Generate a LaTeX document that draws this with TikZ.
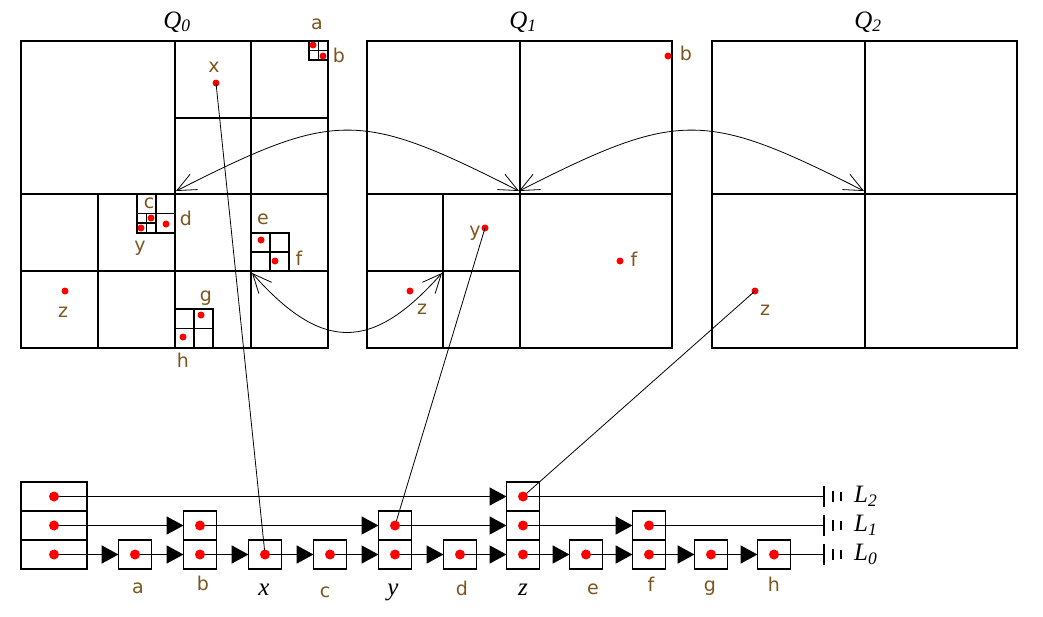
\documentclass[tikz,border=0pt]{standalone}
\usepackage{fontspec}
\setmainfont{DejaVu Sans}
\newfontfamily\serifit{Liberation Serif}
\usetikzlibrary{arrows.meta, positioning}
\definecolor{lblbrown}{RGB}{125,85,30}

\begin{document}
\begin{tikzpicture}[
  x=1pt, y=-1pt,
  quad/.style={line width=1.9pt},
  subq/.style={line width=1.3pt},
  cell/.style={rectangle, draw, line width=1.8pt, minimum width=33pt, minimum height=29pt, inner sep=0pt, outer sep=0pt},
  headcell/.style={cell, minimum width=66pt},
  rdot/.style={circle, fill=red, inner sep=0pt, minimum size=7pt},
  lbl/.style={text=lblbrown, font=\fontsize{19}{19}\selectfont, inner sep=0pt},
  vlbl/.style={font=\fontsize{25}{25}\serifit\itshape, inner sep=0pt},
  ptr/.style={line width=1.8pt, -{Triangle[length=17pt,width=18pt]}},
  stopper/.style={line width=1.8pt, -{Bar[width=21pt]}},
  link/.style={line width=0.8pt},
  jump/.style={line width=0.8pt, {Straight Barb[length=19pt,width=17pt]}-{Straight Barb[length=19pt,width=17pt]}}
]
\useasboundingbox (0,0) rectangle (1043,616);

% quadtree Q0
\draw[quad] (21,41) rectangle (328,348) (175,41) -- (175,348) (21,194) -- (328,194);
\draw[subq] (251,41) -- (251,348) (175,118) -- (328,118) (175,271) -- (328,271);
\draw[subq] (98,194) -- (98,348) (21,271) -- (175,271);
\draw[subq] (309,41) rectangle (328,60) (318.5,41) -- (318.5,60) (309,50.5) -- (328,50.5);
\draw[subq] (137,194) rectangle (175,233) (156,194) -- (156,233) (137,213.5) -- (175,213.5);
\draw[subq] (146.5,213.5) -- (146.5,233) (137,223) -- (156,223);
\draw[subq] (251,233) rectangle (289,271) (270,233) -- (270,271) (251,252) -- (289,252);
\draw[subq] (175,309) rectangle (213,348) (194,309) -- (194,348) (175,328.5) -- (213,328.5);
% quadtree Q1
\draw[quad] (367,41) rectangle (672,348) (520,41) -- (520,348) (367,194) -- (672,194);
\draw[subq] (443,194) -- (443,348) (367,271) -- (520,271);
% quadtree Q2
\draw[quad] (712,41) rectangle (1017,348) (865,41) -- (865,348) (712,194) -- (1017,194);

\node[vlbl] (q0title) at (177,22) {Q\textsubscript{0}};
\node[vlbl] (q1title) at (523,22) {Q\textsubscript{1}};
\node[vlbl] (q2title) at (868,22) {Q\textsubscript{2}};

% points
\node[rdot] (q0a) at (313,45) {};
\node[rdot] (q0b) at (323,56) {};
\node[rdot] (q0x) at (216,83) {};
\node[rdot] (q0c) at (151,218) {};
\node[rdot] (q0y) at (141,228) {};
\node[rdot] (q0d) at (166,224) {};
\node[rdot] (q0e) at (261,240) {};
\node[rdot] (q0f) at (275,261) {};
\node[rdot] (q0z) at (65,291) {};
\node[rdot] (q0g) at (201,315) {};
\node[rdot] (q0h) at (183,337) {};
\node[rdot] (q1b) at (668,56) {};
\node[rdot] (q1y) at (485,228) {};
\node[rdot] (q1f) at (620,261) {};
\node[rdot] (q1z) at (410,291) {};
\node[rdot] (q2z) at (755,291) {};

\node[lbl] at (317,24) {a};
\node[lbl] at (339,55) {b};
\node[lbl] at (214,67) {x};
\node[lbl] at (149,203) {c};
\node[lbl] at (186,218) {d};
\node[lbl] at (140,248) {y};
\node[lbl] at (263,219) {e};
\node[lbl] at (299,258) {f};
\node[lbl] at (63,312) {z};
\node[lbl] at (206,298) {g};
\node[lbl] at (183,360) {h};
\node[lbl] at (686,53) {b};
\node[lbl] at (475,233) {y};
\node[lbl] at (634,259) {f};
\node[lbl] at (422,309) {z};
\node[lbl] at (765,310) {z};

% parent links between the quadtrees
\coordinate (q0mid) at (176,191);
\coordinate (q1mid) at (519,191);
\coordinate (q2mid) at (864,191);
\coordinate (q0se) at (252,273);
\coordinate (q1sw) at (442,273);
\draw[jump] (q0mid) .. controls +(160,-81) and +(-160,-81) .. (q1mid);
\draw[jump] (q1mid) .. controls +(160,-81) and +(-160,-81) .. (q2mid);
\draw[jump] (q0se) .. controls +(70,79) and +(-70,79) .. (q1sw);

% skip list
\node[headcell] (hd0) at (54,554.5) {};
\node[headcell, above=0pt of hd0] (hd1) {};
\node[headcell, above=0pt of hd1] (hd2) {};
\node[cell] (a0) at (135,554.5) {};
\node[cell] (b0) at (200,554.5) {};
\node[cell, above=0pt of b0] (b1) {};
\node[cell] (x0) at (265,554.5) {};
\node[cell] (c0) at (330,554.5) {};
\node[cell] (y0) at (395,554.5) {};
\node[cell, above=0pt of y0] (y1) {};
\node[cell] (d0) at (460,554.5) {};
\node[cell] (z0) at (523,554.5) {};
\node[cell, above=0pt of z0] (z1) {};
\node[cell, above=0pt of z1] (z2) {};
\node[cell] (e0) at (586,554.5) {};
\node[cell] (f0) at (649,554.5) {};
\node[cell, above=0pt of f0] (f1) {};
\node[cell] (g0) at (711,554.5) {};
\node[cell] (h0) at (774,554.5) {};

\coordinate (end0) at (825,554.5);
\coordinate (end1) at (825,525.5);
\coordinate (end2) at (825,496.5);

\foreach \u/\v in {hd0/a0, a0/b0, b0/x0, x0/c0, c0/y0, y0/d0, d0/z0, z0/e0, e0/f0, f0/g0, g0/h0,
                   hd1/b1, b1/y1, y1/z1, z1/f1, hd2/z2}
  \draw[ptr] (\u.center) -- (\v.west);
\draw[stopper] (h0.center) -- (end0);
\draw[stopper] (f1.center) -- (end1);
\draw[stopper] (z2.center) -- (end2);
\foreach \r in {0,1,2}
  \draw[line width=2.2pt] (end\r) ++(8,-5.5) -- ++(0,11) (end\r) ++(16,-4.5) -- ++(0,9);

% links from list entries to their cells
\draw[link] (x0.center) -- (q0x.center);
\draw[link] (y1.center) -- (q1y.center);
\draw[link] (z2.center) -- (q2z.center);

\foreach \n in {hd0, hd1, hd2, a0, b0, b1, x0, c0, y0, y1, d0, z0, z1, z2, e0, f0, f1, g0, h0}
  \fill[red] (\n.center) circle (5pt);

\node[vlbl, anchor=west] at ([xshift=29pt]end2) {L\textsubscript{2}};
\node[vlbl, anchor=west] at ([xshift=29pt]end1) {L\textsubscript{1}};
\node[vlbl, anchor=west] at ([xshift=29pt]end0) {L\textsubscript{0}};

\node[lbl] at (138,588) {a};
\node[lbl] at (203,583) {b};
\node[vlbl] at (264,590) {x};
\node[lbl] at (325,592) {c};
\node[vlbl] at (393,592) {y};
\node[lbl] at (462,588) {d};
\node[vlbl] at (523,590) {z};
\node[lbl] at (593,589) {e};
\node[lbl] at (651,584) {f};
\node[lbl] at (710,588) {g};
\node[lbl] at (774,584) {h};
\end{tikzpicture}
\end{document}
